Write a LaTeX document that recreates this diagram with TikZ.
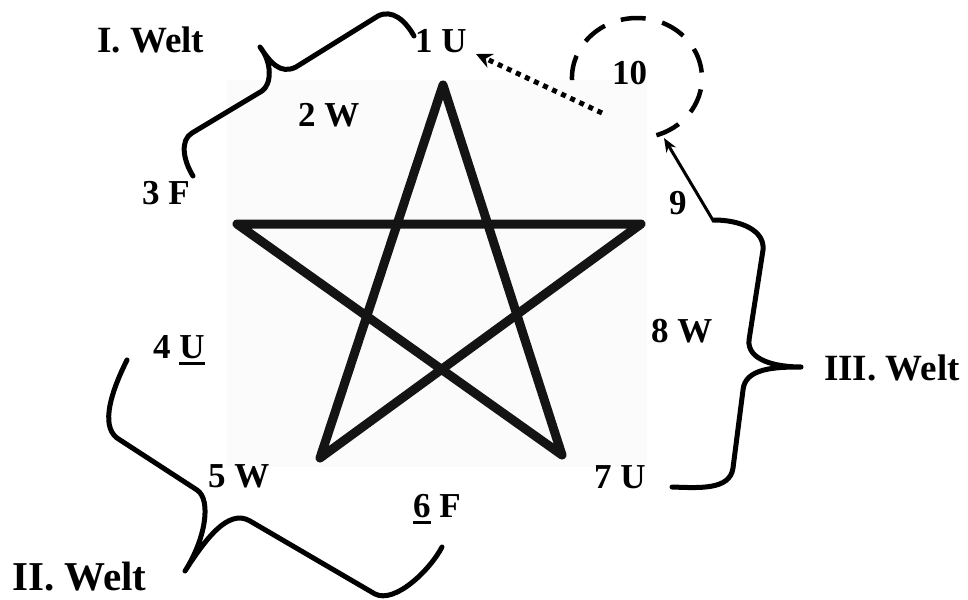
\documentclass[tikz,border=0pt]{standalone}
\usepackage{fontspec}
\setmainfont{Liberation Serif}
\usetikzlibrary{arrows.meta}
\newcommand\myul[1]{\setbox0\hbox{#1}\rlap{\raisebox{-7pt}{\rule{\wd0}{3pt}}}\box0\relax}
\begin{document}
\begin{tikzpicture}[x=1pt,y=-1pt,
  lbl/.style={font=\fontsize{35}{40}\selectfont\bfseries, inner sep=0pt, anchor=base west},
  bracestyle/.style={line width=5pt, line cap=round, line join=round},
  starline/.style={line width=9pt, line join=round, line cap=round, black!92}]
\useasboundingbox (0,0) rectangle (968,599);
\fill[black!1.5] (227,80) rectangle (647,467);
% star
\draw[starline] (443,85) -- (320,458) -- (641,224) -- (237,224) -- (562,455) -- cycle;
% labels
\node[lbl, font=\fontsize{37}{40}\selectfont\bfseries] (w1) at (97,53) {I. Welt};
\node[lbl] (n1) at (415,53) {1 U};
\node[lbl] (n2) at (298,126) {2 W};
\node[lbl] (n3) at (142,204) {3 F};
\node[lbl] (n4) at (153,358) {4 \myul{U}};
\node[lbl] (n5) at (208,487) {5 W};
\node[lbl] (n6) at (413,517) {\myul{6} F};
\node[lbl] (n7) at (594,488) {7 U};
\node[lbl] (n8) at (651,342) {8 W};
\node[lbl] (n9) at (669,214) {9};
\node[lbl] (n10) at (612,85) {10};
\node[lbl, font=\fontsize{37}{40}\selectfont\bfseries] (w3) at (824,380) {III. Welt};
\node[lbl, font=\fontsize{41}{44}\selectfont\bfseries, text depth=0pt] (w2) at (12,590) {II. Welt};
% brace I
\draw[bracestyle] (193,176) .. controls (183,160) and (180,140) .. (192,133) -- (262,91)
  .. controls (272,84) and (272,62) .. (260,47)
  .. controls (270,62) and (280,75) .. (296,67) -- (378,16)
  .. controls (392,9) and (405,20) .. (414,36);
% brace II
\draw[bracestyle] (127,360) .. controls (112,390) and (100,425) .. (117,438) -- (197,490)
  .. controls (212,500) and (205,540) .. (185,571)
  .. controls (205,540) and (228,508) .. (250,521) -- (375,594)
  .. controls (395,604) and (430,570) .. (442,547);
% brace III
\draw[bracestyle] (714,220) .. controls (740,220) and (765,230) .. (763,250) -- (749,340)
  .. controls (747,360) and (775,367) .. (801,367)
  .. controls (775,367) and (745,368) .. (743,390) -- (733,468)
  .. controls (730,490) and (700,488) .. (672,487);
% dashed circle 10
\draw[line width=4.5pt, dash pattern=on 25pt off 17pt] (572,80.1)
  arc[start angle=-182, end angle=75, x radius=65, y radius=60];
% arrows
\coordinate (d0) at (602,113);
\coordinate (d1) at (476,54);
\draw[line width=5pt, dash pattern=on 5pt off 5pt, -{Stealth[length=16pt,width=15pt]}] (d0) -- (d1);
\coordinate (a0) at (714,222);
\coordinate (a1) at (664,138);
\draw[line width=3pt, -{Stealth[length=14pt,width=11pt]}] (a0) -- (a1);
\end{tikzpicture}
\end{document}
